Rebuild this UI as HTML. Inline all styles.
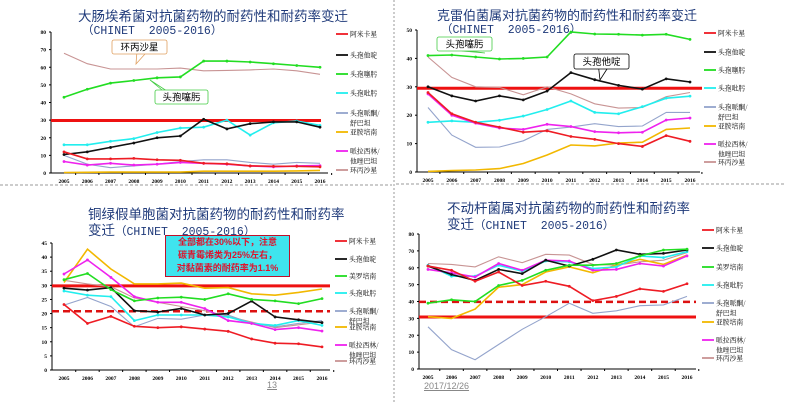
<!DOCTYPE html>
<html><head><meta charset="utf-8">
<style>
body{margin:0;background:#fff;width:785px;height:402px;overflow:hidden;position:relative;font-family:"Liberation Sans","Noto Sans CJK SC",sans-serif}
.t{position:absolute;color:#1f3a7a;font-size:13.5px;white-space:nowrap;font-family:"Liberation Sans","Noto Sans CJK SC",sans-serif}
.m{font-family:"Liberation Mono","Noto Sans CJK SC",monospace;font-size:11.5px}
svg{position:absolute;left:0;top:0}
</style></head>
<body>
<div class="t" style="left:78px;top:5px">大肠埃希菌对抗菌药物的耐药性和耐药率变迁</div>
<div class="t m" style="left:82px;top:22px">（CHINET&nbsp;&nbsp;2005-2016）</div>
<div class="t" style="left:437px;top:5px;font-size:13px">克雷伯菌属对抗菌药物的耐药性和耐药率变迁</div>
<div class="t m" style="left:441px;top:21px">（CHINET&nbsp;&nbsp;2005-2016）</div>
<div class="t" style="left:88px;top:203px">铜绿假单胞菌对抗菌药物的耐药性和耐药率</div>
<div class="t" style="left:88px;top:219px"><span>变迁</span><span class="m">（CHINET&nbsp;&nbsp;2005-2016）</span></div>
<div class="t" style="left:447px;top:197px">不动杆菌属对抗菌药物的耐药性和耐药率</div>
<div class="t" style="left:447px;top:213px"><span>变迁</span><span class="m">（CHINET&nbsp;&nbsp;2005-2016）</span></div>
<div style="position:absolute;left:165px;top:235px;width:123px;height:40px;background:#3fe4ee;border:1px solid #c0102a;color:#e0102a;font-size:9px;font-weight:bold;line-height:13px;text-align:center;font-family:'Liberation Sans','Noto Sans CJK SC',sans-serif">全部都在30%以下，注意<br>碳青霉烯类为25%左右，<br>对黏菌素的耐药率为1.1%</div>
<div style="position:absolute;left:267px;top:380px;font-size:9px;color:#888;text-decoration:underline">13</div>
<div style="position:absolute;left:424px;top:381px;font-size:9px;color:#888;text-decoration:underline">2017/12/26</div>
<svg id="s" width="785" height="402"></svg>
<script>
const years=["2005","2006","2007","2008","2009","2010","2011","2012","2013","2014","2015","2016"];
const names1=["阿米卡星","头孢他啶","头孢噻肟","头孢吡肟","头孢哌酮/舒巴坦","亚胺培南","哌拉西林/他唑巴坦","环丙沙星"];
const names3=["阿米卡星","头孢他啶","美罗培南","头孢吡肟","头孢哌酮/舒巴坦","亚胺培南","哌拉西林/他唑巴坦","环丙沙星"];
const yTicks1=[0,10,20,30,40,50,60,70,80];
const yTicks2=[0,10,20,30,40,50];
const yTicks3=[0,5,10,15,20,25,30,35,40,45];
const yTicks4=[0,10,20,30,40,50,60,70,80];
// chart1 E. coli
const c1_amk=[12,8,8,8.3,7.5,7.2,5.5,5.2,4,3.8,3.8,3.5];
const c1_caz=[10.5,12,14.5,17,20,21,30.5,25,28,29,29,26];
const c1_ctx=[43,47.5,51,52.5,54,54.5,63.5,63.5,63,62,61,60];
const c1_fep=[16,16,18,19.5,23,25.5,26,30,21.5,28.5,29.5,27];
const c1_sul=[10,5,3,4,5,6.5,7.5,7.5,6,5,6,5.5];
const c1_ipm=[0.3,0.4,0.5,0.5,0.5,0.5,1,1,1,1,1.2,1.5];
const c1_tzp=[6.5,4.5,5.5,4.5,5,6,5.5,5,4,3.5,4,4.2];
const c1_cip=[68,62,59,59,59,59.5,58,58.2,58.5,59,58,56];
const c1_ref=[29.8];
// chart2 Klebsiella
const c2_amk=[28,20.5,17.5,15.8,14,14.5,12.5,11.5,10,9,12.8,10.8];
const c2_caz=[30,26.8,25,26.8,25.4,28.5,35,32.5,30.5,29.2,32.8,31.7];
const c2_ctx=[41,41.2,40.5,39.8,40,40.5,49.3,48.6,48.5,48.2,48.5,46.7];
const c2_fep=[17.5,18,17.5,18.2,19.7,22,25,21,20.5,23,26,26.7];
const c2_sul=[22.7,13,8.7,8.8,11,15,15.8,17,16,16.2,21,21];
const c2_ipm=[0.2,0.5,0.7,1.2,3,6,9.5,9.2,10.2,10.5,15,15.5];
const c2_tzp=[27.5,20,17.2,15.5,15,16.8,16,14.2,13.8,14,18.3,19];
const c2_cip=[40.5,33.3,30,29.8,27.2,30,27.5,24,22.5,22.7,26.5,28];
const c2_ref=[29.5];
// chart3 P. aeruginosa
const c3_amk=[23.2,16.5,19,15.5,15,15.3,14.5,13.7,11,9.5,9.3,8.2];
const c3_caz=[29,28.3,29.2,21,20.5,21.8,19.5,20,24.4,18.8,17.8,16.8];
const c3_mem=[32,34.2,28.5,24.5,25.5,25.8,25,27,25,24.5,23.5,25.3];
const c3_fep=[28,26.5,26,17.5,19.5,19.5,19.5,18.8,16.5,15.8,17.5,15.8];
const c3_sul=[23,25.7,22.5,15.3,18.3,18,19.5,19.5,16.5,15.3,16.5,17.5];
const c3_ipm=[31,42.8,35.8,30.5,30.5,30.8,29,29.2,27,26.5,27.5,28.7];
const c3_tzp=[34,39,32.8,26,24,24,21.8,17.5,16.5,14.3,15,13.8];
const c3_cip=[31.8,30.5,29.5,25.5,24,22.5,21,19,17,15,16,17];
const c3_ref=[29.8]; const c3_dash=[20.8];
// chart4 Acinetobacter
const c4_amk=[61,58.5,52,57.5,49.5,52,49,40.5,43,47.5,46,50.5];
const c4_caz=[61,56,52.5,59,56.5,64.5,61,65,70.5,68,68.5,70.5];
const c4_mem=[39,41,40,49.5,52.5,58.5,61.5,61.5,62.5,67,70.5,71];
const c4_fep=[61.5,55,55,61.5,58,64,63.5,59.5,60.5,67,66,69.5];
const c4_sul=[25,11.5,5.5,14.5,23.5,31,39,33,34.5,37.5,38,43];
const c4_ipm=[31,30,35.5,48.5,50,57.5,60.5,57,61.5,65,62,67.5];
const c4_tzp=[59,57,54.5,62.5,58.5,64.5,64,58.5,59,62.5,61,67];
const c4_cip=[62.5,62,60.5,66.5,63,68,67.5,62,61.5,63.5,64.5,69];
const c4_ref=[30.8]; const c4_dash=[39.8];

const colors=["#ee1c24","#111111","#22dd22","#22eeee","#94a4cc","#f2b800","#ee22ee","#c89494"];
const NS="http://www.w3.org/2000/svg";
const S=document.getElementById('s');
function mk(t,a,p){const e=document.createElementNS(NS,t);for(const k in a)e.setAttribute(k,a[k]);(p||S).appendChild(e);return e;}

function chart(id,cfg,series,names,ticks,ref,dash){
  const g=mk('g',{});
  
  
  const yMax=ticks[ticks.length-1];
  const X=i=>cfg.x0+(cfg.x1-cfg.x0)*i/(years.length-1);
  const Y=v=>cfg.y0-(cfg.y0-cfg.yT)*v/yMax;
  const ax=mk('path',{d:`M${cfg.ax} ${cfg.yT} V${cfg.y0} H${cfg.axR}`,stroke:'#000','stroke-width':1,fill:'none'},g);
  
  
  ticks.forEach(t=>{
    mk('line',{x1:cfg.ax-2,x2:cfg.ax,y1:Y(t),y2:Y(t),stroke:'#000'},g);
    const tx=mk('text',{x:cfg.ax-5,y:Y(t)+2,'font-size':5.5,'font-weight':'bold','text-anchor':'end','font-family':'Liberation Serif,serif'},g);
    tx.textContent=t;
    
    
  });
  years.forEach((yr,i)=>{
    mk('line',{x1:X(i)+(cfg.x1-cfg.x0)/22,x2:X(i)+(cfg.x1-cfg.x0)/22,y1:cfg.y0,y2:cfg.y0+2,stroke:'#000'},g);
    const tx=mk('text',{x:X(i),y:cfg.y0+10,'font-size':5.5,'font-weight':'bold','text-anchor':'middle','font-family':'Liberation Serif,serif'},g);
    tx.textContent=yr;
    
    
  });
  ref.forEach(v=>{const l=mk('line',{x1:cfg.ax,x2:cfg.axR+cfg.refExt,y1:Y(v),y2:Y(v),stroke:'#ee1111','stroke-width':3},g);
    
    });
  (dash||[]).forEach(v=>{const l=mk('line',{x1:cfg.ax,x2:cfg.axR+cfg.refExt,y1:Y(v),y2:Y(v),stroke:'#dd1111','stroke-width':2.5,'stroke-dasharray':'7 4'},g);
    
    });
  const order=[7,4,5,3,6,1,2,0];
  order.forEach(k=>{
    const d=series[k].map((v,i)=>(i?'L':'M')+X(i).toFixed(1)+' '+Y(v).toFixed(1)).join(' ');
    const p=mk('path',{d,stroke:colors[k],'stroke-width':k==4||k==7?1.1:1.6,fill:'none'},g);
    
    
    if(k!=7&&k!=4&&k!=5) series[k].forEach((v,i)=>{const c=mk('circle',{cx:X(i),cy:Y(v),r:1.4,fill:colors[k]},g);
      
      });
  });
  names.forEach((n,k)=>{
    const ly=cfg.leg[k];
    const l=mk('line',{x1:cfg.lx,x2:cfg.lx+12,y1:ly,y2:ly,stroke:colors[k],'stroke-width':1.8},g);
    
    
    const parts=n.includes('/')?[n.split('/')[0]+'/',n.split('/')[1]]:[n];
    parts.forEach((s,j)=>{
      const t=mk('text',{x:cfg.lx+14,y:ly+2.5+j*10,'font-size':6.8,'font-family':'Noto Serif CJK SC,serif'},g);
      t.textContent=s;
      
      
    });
  });
}
chart('chart-ecoli',{ax:51,axR:328,x0:64,x1:320,y0:173,yT:32,refExt:-7,lx:336,leg:[34,55,74,93,113,132,151,170]},
  [c1_amk,c1_caz,c1_ctx,c1_fep,c1_sul,c1_ipm,c1_tzp,c1_cip],names1,yTicks1,c1_ref);
chart('chart-klebsiella',{ax:417,axR:700,x0:428,x1:690,y0:172,yT:30,refExt:2,lx:704,leg:[33,52,70,88,107,126,144,162]},
  [c2_amk,c2_caz,c2_ctx,c2_fep,c2_sul,c2_ipm,c2_tzp,c2_cip],names1,yTicks2,c2_ref);
chart('chart-pseudomonas',{ax:52,axR:330,x0:64,x1:322,y0:370,yT:243,refExt:0,lx:335,leg:[241,259,276,293,311,327,345,361]},
  [c3_amk,c3_caz,c3_mem,c3_fep,c3_sul,c3_ipm,c3_tzp,c3_cip],names3,yTicks3,c3_ref,c3_dash);
chart('chart-acinetobacter',{ax:419,axR:696,x0:428,x1:687,y0:369,yT:234,refExt:0,lx:702,leg:[230,248,267,285,303,322,340,358]},
  [c4_amk,c4_caz,c4_mem,c4_fep,c4_sul,c4_ipm,c4_tzp,c4_cip],names3,yTicks4,c4_ref,c4_dash);

let l=mk('line',{x1:394,x2:394,y1:0,y2:402,stroke:'#999','stroke-dasharray':'2 2'});


l=mk('line',{x1:0,x2:392,y1:185,y2:185,stroke:'#999','stroke-dasharray':'3 2'});


l=mk('line',{x1:396,x2:785,y1:184,y2:184,stroke:'#999','stroke-dasharray':'3 2'});



function callout(name,x,y,w,h,tx,ty,txt,col){
  const g=mk('g',{});
  
  
  mk('path',{d:`M${x+w*0.45} ${y+h} L${tx} ${ty} L${x+w*0.6} ${y+h}`,fill:'#fff',stroke:col,'stroke-width':0.8},g);
  mk('rect',{x,y,width:w,height:h,rx:2,fill:'#fff',stroke:col,'stroke-width':0.8},g);
  const t=mk('text',{x:x+w/2,y:y+h/2+3.5,'font-size':9.5,'text-anchor':'middle','font-family':'Noto Sans CJK SC,sans-serif'},g);
  t.textContent=txt;
}
callout('callout-cipro',112,40,55,14,136,64,'环丙沙星','#e0a060');
callout('callout-cefotaxime-1',155,90,53,14,150,80,'头孢噻肟','#44cc44');
callout('callout-cefotaxime-2',437,37,55,14,485,53,'头孢噻肟','#44cc44');
callout('callout-ceftazidime',574,54,55,15,600,80,'头孢他啶','#000');
</script>
</body></html>
